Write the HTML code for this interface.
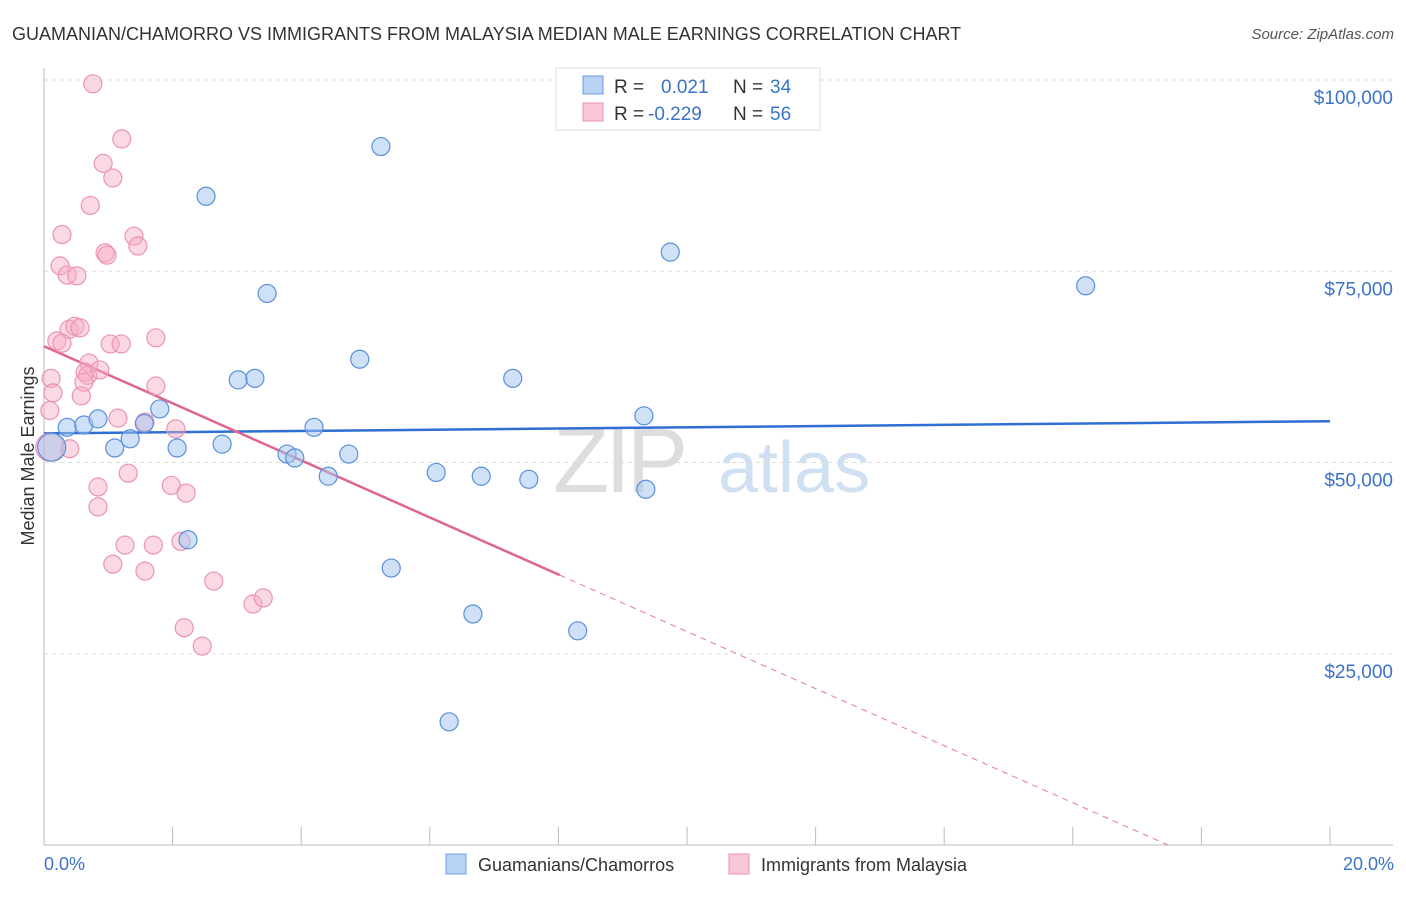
<!DOCTYPE html>
<html><head><meta charset="utf-8"><style>
body{margin:0;background:#fff;font-family:"Liberation Sans",sans-serif;}
svg text{font-family:"Liberation Sans",sans-serif;}
</style></head><body>
<svg id="chart" width="1406" height="892" xmlns="http://www.w3.org/2000/svg">
<text x="12" y="40" font-size="18" fill="#333">GUAMANIAN/CHAMORRO VS IMMIGRANTS FROM MALAYSIA MEDIAN MALE EARNINGS CORRELATION CHART</text>
<text x="1394" y="39" font-size="15" fill="#555" text-anchor="end" font-style="italic">Source: ZipAtlas.com</text>
<g>
<text x="553" y="492" font-size="92" fill="#ddd" font-family="Liberation Serif" letter-spacing="-4">ZIP</text>
<text x="718" y="492" font-size="72" fill="#cfe0f3">atlas</text>
</g>
<g id="grid"></g>
<g id="axes"></g>
<g id="trends"></g>
<g id="points"></g>
<text transform="translate(34,456) rotate(-90)" font-size="18" fill="#333" text-anchor="middle">Median Male Earnings</text>
<text x="44" y="870" font-size="18" fill="#3b73c9">0.0%</text>
<text x="1394" y="870" font-size="18" fill="#3b73c9" text-anchor="end">20.0%</text>
<g>
<rect x="556" y="68" width="264" height="62" fill="#fff" stroke="#ddd"/>
<rect x="583" y="76" width="20" height="18" fill="#b9d3f5" stroke="#6d9be0"/>
<rect x="583" y="103" width="20" height="18" fill="#f9c8d7" stroke="#eb94b0"/>
<text x="614" y="93" font-size="19" fill="#333">R =</text>
<text x="661" y="93" font-size="19" fill="#3b73c9">0.021</text>
<text x="733" y="93" font-size="19" fill="#333">N =</text>
<text x="770" y="93" font-size="19" fill="#3b73c9">34</text>
<text x="614" y="120" font-size="19" fill="#333">R =</text>
<text x="648" y="120" font-size="19" fill="#3b73c9">-0.229</text>
<text x="733" y="120" font-size="19" fill="#333">N =</text>
<text x="770" y="120" font-size="19" fill="#3b73c9">56</text>
</g>
<g>
<rect x="446" y="854" width="20" height="20" fill="#b9d3f5" stroke="#6d9be0"/>
<text x="478" y="871" font-size="18" fill="#333">Guamanians/Chamorros</text>
<rect x="729" y="854" width="20" height="20" fill="#f9c8d7" stroke="#eb94b0"/>
<text x="761" y="871" font-size="18" fill="#333">Immigrants from Malaysia</text>
</g>
</svg>
<script>
const yTicks=[25000,50000,75000,100000];
const yTickLabels=["$25,000","$50,000","$75,000","$100,000"];
const blueX=[0.12,0.36,0.62,0.84,1.10,1.34,1.56,1.80,2.07,2.24,2.52,2.77,3.02,3.28,3.47,3.78,3.90,4.20,4.42,4.74,4.91,5.24,5.40,6.10,6.30,6.67,6.80,7.29,7.54,8.30,9.33,9.36,9.74,16.2];
const blueY=[52.0,54.6,54.9,55.7,51.9,53.1,55.1,57.0,51.9,39.9,84.8,52.4,60.8,61.0,72.1,51.1,50.6,54.6,48.2,51.1,63.5,91.3,36.2,48.7,16.1,30.2,48.2,61.0,47.8,28.0,56.1,46.5,77.5,73.1];
const pinkX=[0.76,1.21,0.92,1.07,0.72,0.28,1.40,1.46,0.95,0.98,0.25,0.36,0.51,0.39,0.48,0.56,0.20,0.28,1.03,1.20,1.74,0.70,0.64,0.68,0.87,0.62,1.74,0.11,0.14,0.58,0.09,1.15,1.57,2.05,0.40,1.31,0.84,1.98,2.21,0.84,1.26,1.70,2.13,1.07,1.57,2.64,3.25,3.41,2.18,2.46,0.09];
const pinkY=[99.5,92.3,89.1,87.2,83.6,79.8,79.6,78.3,77.4,77.1,75.7,74.5,74.4,67.4,67.8,67.6,65.9,65.6,65.5,65.5,66.3,63.0,61.8,61.4,62.1,60.5,60.0,61.0,59.1,58.7,56.8,55.8,55.3,54.4,51.8,48.6,46.8,47.0,46.0,44.2,39.2,39.2,39.7,36.7,35.8,34.5,31.5,32.3,28.4,26.0,52.0];
const blueTrend=[53.8,55.4]; // value at 0% and 20%
const pinkTrend=[65.2,-3.73]; // intercept, slope per %
const pinkSolidEnd=8.02;

const NS="http://www.w3.org/2000/svg";
const X=p=>44+p*(1330-44)/20;
const Y=v=>845-v*(845-80)/100000;
function mk(tag,attrs,parent){const e=document.createElementNS(NS,tag);for(const k in attrs)e.setAttribute(k,attrs[k]);parent.appendChild(e);return e;}
const grid=document.getElementById('grid'),axes=document.getElementById('axes'),tr=document.getElementById('trends'),pts=document.getElementById('points');
yTicks.forEach((t,i)=>{
 const l=mk('line',{x1:44,x2:1393,y1:Y(t),y2:Y(t),stroke:'#ddd','stroke-dasharray':'4,4'},grid);
 
 
 const tx=mk('text',{x:1393,y:Y(t)+24,'font-size':19,fill:'#3b73c9','text-anchor':'end'},grid);
 tx.textContent=yTickLabels[i];
 
 
});
const ax=mk('line',{x1:44,x2:1393,y1:845,y2:845,stroke:'#bbb'},axes);


const ay=mk('line',{x1:44,x2:44,y1:68,y2:845,stroke:'#bbb'},axes);


for(let i=0;i<=20;i+=2){
 const t=mk('line',{x1:X(i),x2:X(i),y1:827,y2:845,stroke:'#bbb'},axes);
 
 
}
const bl=mk('line',{x1:X(0),x2:X(20),y1:Y(blueTrend[0]*1000),y2:Y(blueTrend[1]*1000),stroke:'#2f6fd4','stroke-width':2.5},tr);


const pv=x=>(pinkTrend[0]+pinkTrend[1]*x)*1000;
const zeroX=-pinkTrend[0]/pinkTrend[1];
const pd=mk('line',{x1:X(pinkSolidEnd),x2:X(zeroX),y1:Y(pv(pinkSolidEnd)),y2:Y(0),stroke:'#e8779c','stroke-width':1,'stroke-dasharray':'6,5'},tr);


const pl=mk('line',{x1:X(0),x2:X(pinkSolidEnd),y1:Y(pv(0)),y2:Y(pv(pinkSolidEnd)),stroke:'#e0668f','stroke-width':2.5},tr);


pinkX.forEach((x,i)=>{
 const r=(i===pinkX.length-1)?14:9;
 const c=mk('circle',{cx:X(x),cy:Y(pinkY[i]*1000),r:r,fill:'rgba(246,170,195,0.45)',stroke:'#eb94b0','stroke-width':1.2},pts);
 
 
});
blueX.forEach((x,i)=>{
 const r=(i===0)?14:9;
 const c=mk('circle',{cx:X(x),cy:Y(blueY[i]*1000),r:r,fill:'rgba(160,196,240,0.5)',stroke:'#5b8fdc','stroke-width':1.2},pts);
 
 
});
</script>
</body></html>
